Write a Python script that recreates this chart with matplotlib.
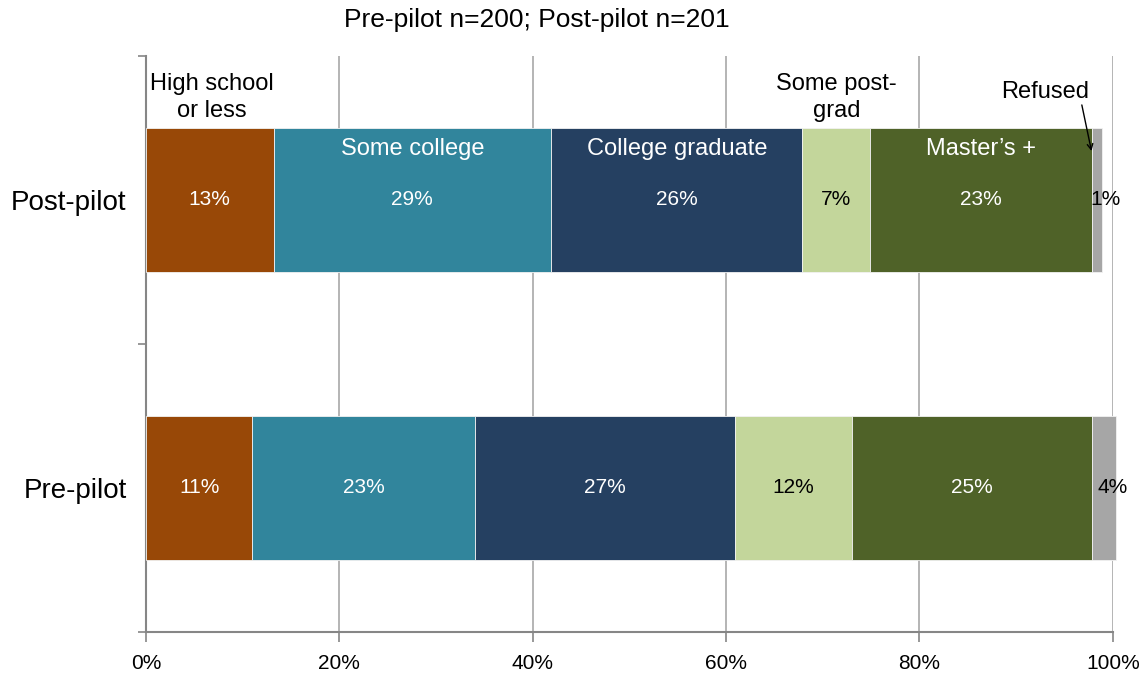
import matplotlib.pyplot as plt

plt.rcParams['font.family'] = ['Liberation Sans', 'DejaVu Sans']

# Data (percent of respondents)
groups = ['Pre-pilot', 'Post-pilot']
segments = ['High school or less', 'Some college', 'College graduate',
            'Some post-grad', "Master's +", 'Refused']
pre_vals = [11.0, 23.0, 26.9, 12.1, 24.9, 2.4]
post_vals = [13.2, 28.7, 26.0, 7.0, 23.0, 1.0]
pre_labels = ['11%', '23%', '27%', '12%', '25%', '4%']
post_labels = ['13%', '29%', '26%', '7%', '23%', '1%']
x_ticks = [0, 20, 40, 60, 80, 100]
x_ticklabels = ['0%', '20%', '40%', '60%', '80%', '100%']

colors = ['#984807', '#31859C', '#254061', '#C3D69B', '#4F6228', '#A6A6A6']
text_colors = ['white', 'white', 'white', 'black', 'white', 'black']

fig = plt.figure(figsize=(11.46, 6.77), dpi=100)
ax = fig.add_axes([0.1274, 0.0665, 0.8436, 0.8508])

rows = [pre_vals, post_vals]
row_labels = [pre_labels, post_labels]
for yi, (vals, labs) in enumerate(zip(rows, row_labels)):
    left = 0
    for i, v in enumerate(vals):
        ax.barh(yi, v, left=left, height=0.5, color=colors[i],
                edgecolor='#F2F2F2', linewidth=0.6, zorder=3, clip_on=False)
        xc = left + v / 2
        if i == len(vals) - 1:
            xc += 0.9
        ax.text(xc, yi, labs[i], ha='center', va='center', fontsize=15,
                color=text_colors[i], zorder=4)
        left += v

# segment names on the post-pilot bar
post_left = [sum(post_vals[:i]) for i in range(len(post_vals))]
inside = {1: 'Some college', 2: 'College graduate', 4: 'Master\u2019s +'}
for i, name in inside.items():
    ax.text(post_left[i] + post_vals[i] / 2, 1.177, name, ha='center',
            va='center', fontsize=17, color='white', zorder=4)
ax.text(post_left[0] + post_vals[0] / 2 + 0.2, 1.355, 'High school\nor less',
        ha='center', va='center', fontsize=17, linespacing=1.3)
ax.text(post_left[3] + post_vals[3] / 2, 1.355, 'Some post-\ngrad',
        ha='center', va='center', fontsize=17, linespacing=1.3)
ax.text(93.0, 1.375, 'Refused', ha='center', va='center', fontsize=17)
ax.annotate('', xy=(post_left[5] - 0.1, 1.17), xytext=(96.8, 1.33),
            zorder=5, arrowprops=dict(arrowstyle='->', color='black', lw=1,
                                      shrinkA=0, shrinkB=0))

ax.set_xlim(0, 100)
ax.set_ylim(-0.5, 1.5)
ax.set_xticks(x_ticks)
ax.set_xticklabels(x_ticklabels, fontsize=15)
ax.xaxis.grid(True, color='#A0A0A0', linewidth=1.1, zorder=0)
ax.tick_params(axis='x', length=7, width=1.2, color='#868686', pad=9)

ax.set_yticks([-0.5, 0.5, 1.5])
ax.set_yticklabels([])
ax.set_yticks([0, 1], minor=True)
ax.set_yticklabels(groups, minor=True, fontsize=20)
ax.tick_params(axis='y', which='major', length=6, width=1.2, color='#868686')
ax.tick_params(axis='y', which='minor', length=0, pad=14)

for s in ['top', 'right']:
    ax.spines[s].set_visible(False)
for s in ['left', 'bottom']:
    ax.spines[s].set_color('#868686')
    ax.spines[s].set_linewidth(1.5)

fig.text(537 / 1146, 1 - 20 / 677, 'Pre-pilot n=200; Post-pilot n=201',
         ha='center', va='center', fontsize=19)

fig.savefig('out.png', dpi=100)
